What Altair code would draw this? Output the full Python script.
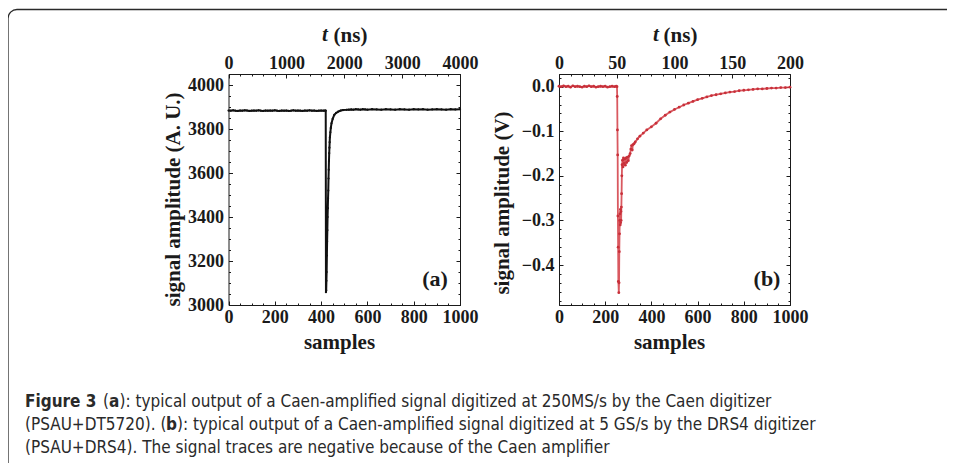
import altair as alt
import pandas as pd

# ---------------- data ----------------
# Panel (a): Caen digitizer, 250 MS/s (1 sample = 4 ns)
a_samples = [0, 10, 20, 30, 40, 50, 60, 70, 80, 90, 100, 110, 120, 130, 140, 150, 160, 170, 180, 190,
             200, 210, 220, 230, 240, 250, 260, 270, 280, 290, 300, 310, 320, 330, 340, 350, 360, 370,
             380, 390, 400, 410, 417, 420,
             421, 422, 423, 424, 425, 426, 427, 428, 429, 430, 431, 432, 433, 434, 435, 436, 437, 438,
             440, 442, 445, 450, 457, 465, 474, 485, 495,
             510, 520, 530, 540, 550, 560, 570, 580, 590, 600, 620, 640, 660, 680, 700, 720, 740, 760,
             780, 800, 820, 840, 860, 880, 900, 920, 940, 960, 980, 1000]
a_values = [3884, 3883, 3885, 3883, 3882, 3884, 3883, 3885, 3884, 3882, 3883, 3884, 3883, 3885, 3883, 3882,
            3884, 3883, 3884, 3883, 3885, 3883, 3882, 3884, 3883, 3884, 3882, 3883, 3885, 3883, 3884, 3883,
            3882, 3884, 3883, 3885, 3883, 3884, 3882, 3883, 3884, 3883, 3884, 3883,
            3058, 3066, 3110, 3150, 3225, 3290, 3340, 3400, 3440, 3485, 3520, 3575, 3615, 3655, 3690, 3715,
            3740, 3762, 3785, 3805, 3826, 3846, 3864, 3873, 3879, 3884, 3886,
            3887, 3888, 3889, 3888, 3890, 3889, 3888, 3890, 3889, 3888, 3890, 3889, 3888, 3890, 3889, 3888,
            3890, 3889, 3888, 3890, 3889, 3890, 3888, 3889, 3890, 3889, 3888, 3890, 3889, 3890]

# Panel (b): DRS4 digitizer, 5 GS/s (1 sample = 0.2 ns)
b_samples = [0, 10, 20, 30, 40, 50, 60, 70, 80, 90, 100, 110, 120, 130, 140, 150, 160, 170, 180, 190,
             200, 210, 220, 230, 240, 248, 251,
             252, 253, 254, 255, 256, 257, 259, 260, 261, 262, 263, 264, 265, 266, 267, 268, 269, 270,
             271, 272, 273, 275, 277, 279, 281, 284, 287, 290, 293, 296, 300, 304, 308, 311, 314, 317,
             320, 325, 330, 340, 350, 365, 380, 400, 420, 440, 460, 480, 500, 520, 540, 560, 580, 600,
             620, 640, 660, 680, 700, 720, 740, 760, 780, 800, 820, 840, 860, 880, 900, 920, 940, 960,
             980, 1000]
b_values = [0.001, 0.000, 0.002, 0.000, 0.001, -0.001, 0.002, 0.000, 0.001, 0.000, -0.001, 0.001, 0.000,
            0.002, 0.000, 0.001, -0.001, 0.000, 0.001, 0.000, 0.001, -0.001, 0.000, 0.001, 0.000, 0.001,
            0.000,
            -0.022, -0.097, -0.153, -0.290, -0.360, -0.437, -0.462, -0.440, -0.370, -0.330, -0.300, -0.285,
            -0.310, -0.275, -0.305, -0.280, -0.300, -0.270,
            -0.240, -0.200, -0.175, -0.165, -0.180, -0.160, -0.172, -0.162, -0.176, -0.160, -0.170, -0.158,
            -0.166, -0.155, -0.150, -0.140, -0.132, -0.142,
            -0.130, -0.128, -0.124, -0.117, -0.111, -0.104, -0.097, -0.090, -0.082, -0.072, -0.064, -0.057,
            -0.051, -0.046, -0.041, -0.037, -0.033, -0.029,
            -0.026, -0.023, -0.020, -0.018, -0.016, -0.014, -0.012, -0.011, -0.009, -0.008, -0.007, -0.006,
            -0.005, -0.005, -0.004, -0.003, -0.003, -0.002, -0.002, -0.001]

# tick values
x_major = [0, 200, 400, 600, 800, 1000]
x_minor = list(range(0, 1001, 50))
a_t_major = [0, 1000, 2000, 3000, 4000]
a_t_minor = list(range(0, 4001, 200))
a_y_major = [3000, 3200, 3400, 3600, 3800, 4000]
a_y_minor = list(range(3000, 4051, 50))
b_t_major = [0, 50, 100, 150, 200]
b_t_minor = list(range(0, 201, 10))
b_y_major = [-0.4, -0.3, -0.2, -0.1, 0.0]
b_y_minor = [-0.48, -0.46, -0.44, -0.42, -0.4, -0.38, -0.36, -0.34, -0.32, -0.3, -0.28, -0.26, -0.24,
             -0.22, -0.2, -0.18, -0.16, -0.14, -0.12, -0.1, -0.08, -0.06, -0.04, -0.02, 0.0, 0.02]

caption_lines = [
    [("Figure 3", True, 25), ("(", False, 103), ("a", True, 109),
     ("): typical output of a Caen-amplified signal digitized at 250MS/s by the Caen digitizer", False, 119.5)],
    [("(PSAU+DT5720). (", False, 25), ("b", True, 166),
     ("): typical output of a Caen-amplified signal digitized at 5 GS/s by the DRS4 digitizer", False, 177)],
    [("(PSAU+DRS4). The signal traces are negative because of the Caen amplifier", False, 25)],
]

# ---------------- layout ----------------
W, H = 939, 455
SERIF = "Liberation Serif"
SANS = "DejaVu Sans Condensed, Liberation Sans Narrow, Liberation Sans, sans-serif"
INK = "#1a1a1a"
Y0, Y1 = 74 - 8, 305 - 8     # top / bottom of both frames (chart coords)
MAJ, MIN = 4.0, 2.0


def sc(dom, rng):
    return alt.Scale(domain=dom, range=rng, nice=False, zero=False)


def lab_axis(orient, offset, values, fmt, title, tx, ty, pad, angle=0):
    kw = dict(orient=orient, offset=offset, values=values, format=fmt, ticks=False,
              labelPadding=pad, domain=True, domainColor=INK, domainWidth=1,
              grid=False, labelFont=SERIF, labelFontWeight="bold", labelFontSize=18,
              labelColor=INK, labelFlush=False, labelOverlap=False, labelBound=False,
              titleFont=SERIF, titleFontWeight="bold", titleFontSize=21, titleColor=INK)
    if title is None:
        kw["title"] = None
    else:
        kw.update(title=title, titleX=tx, titleY=ty, titleBaseline="middle", titleAngle=angle,
                  titleAlign="center")
    return alt.Axis(**kw)


def frame_axis(orient, offset):
    return alt.Axis(orient=orient, offset=offset, labels=False, ticks=False, domain=True,
                    domainColor=INK, domainWidth=1, grid=False, title=None)


def tick_axis(orient, offset, values, size):
    return alt.Axis(orient=orient, offset=offset, values=values, labels=False, domain=False,
                    ticks=True, tickSize=size, tickColor=INK, tickWidth=1, grid=False, title=None)


def panel(samples, values, tfac, tdom, tmaj, tmin, ydom, ymaj, ymin, yfmt, ytitle,
          px0, px1, ytx, yty, stx, ttx, tlx, tag, tagx, line_color, line_w, line_op,
          pt_color, pt_size):
    x0, x1 = px0 - 8, px1 - 8
    df = pd.DataFrame({"s": samples, "v": values})
    base = alt.Chart(df).transform_calculate(t=f"datum.s * {tfac}")
    xs = sc([0, 1000], [x0, x1])
    ts = sc(tdom, [x0, x1])
    ys = sc(ydom, [Y1, Y0])
    ghost = dict(opacity=0, size=1)

    layers = [
        base.mark_line(color=line_color, strokeWidth=line_w, opacity=line_op).encode(
            x=alt.X("s:Q", scale=xs,
                    axis=lab_axis("bottom", Y1 - H, x_major, "d", "samples", stx, 37.5, 3)),
            y=alt.Y("v:Q", scale=ys,
                    axis=lab_axis("left", -x0, ymaj, yfmt, ytitle, ytx - px0, yty, 5, 270)),
            order="s:Q"),
        base.mark_point(**ghost).encode(
            x=alt.X("s:Q", scale=xs, axis=tick_axis("bottom", Y1 - MAJ - H, x_major, MAJ)),
            y=alt.Y("v:Q", scale=ys, axis=tick_axis("left", -(x0 + MAJ), ymaj, MAJ))),
        base.mark_point(**ghost).encode(
            x=alt.X("s:Q", scale=xs, axis=tick_axis("bottom", Y1 - MIN - H, x_minor, MIN)),
            y=alt.Y("v:Q", scale=ys, axis=tick_axis("left", -(x0 + MIN), ymin, MIN))),
        base.mark_point(**ghost).encode(
            x=alt.X("t:Q", scale=ts,
                    axis=lab_axis("top", -Y0, tmaj, "d", "(ns)", ttx, 27 - Y0, 2)),
            y=alt.Y("v:Q", scale=ys, axis=frame_axis("right", x1 - W))),
        base.mark_point(**ghost).encode(
            x=alt.X("t:Q", scale=ts, axis=tick_axis("top", -(Y0 + MAJ), tmaj, MAJ)),
            y=alt.Y("v:Q", scale=ys, axis=tick_axis("right", x1 - MAJ - W, ymaj, MAJ))),
        base.mark_point(**ghost).encode(
            x=alt.X("t:Q", scale=ts, axis=tick_axis("top", -(Y0 + MIN), tmin, MIN)),
            y=alt.Y("v:Q", scale=ys, axis=tick_axis("right", x1 - MIN - W, ymin, MIN))),
        base.mark_circle(color=pt_color, size=pt_size, opacity=1).encode(
            x=alt.X("s:Q", scale=xs, axis=None),
            y=alt.Y("v:Q", scale=ys, axis=None)),
    ]
    one = pd.DataFrame({"k": [0]})
    layers.append(alt.Chart(one).mark_text(text=tag, font=SERIF, fontWeight="bold", fontSize=22,
                                           color=INK, align="center", baseline="middle").encode(
        x=alt.value(tagx - 8), y=alt.value(279 - 8)))
    layers.append(alt.Chart(one).mark_text(text="t", font=SERIF, fontWeight="bold", fontStyle="italic",
                                           fontSize=21, color=INK, align="center",
                                           baseline="middle").encode(
        x=alt.value(tlx - 8), y=alt.value(35 - 8)))
    return layers


layers = []
layers += panel(a_samples, a_values, 4, [0, 4000], a_t_major, a_t_minor, [3000, 4050], a_y_major,
                a_y_minor, "d", "signal amplitude (A. U.)", 228.5, 460, 173, 191, 331, 342, 325,
                "(a)", 435, "#111111", 2.0, 1.0, "#111111", 5)
layers += panel(b_samples, b_values, 0.2, [0, 200], b_t_major, b_t_minor, [-0.4897, 0.0285], b_y_major,
                b_y_minor, ".1f", "signal amplitude (V)", 559, 790, 502.7, 194.5, 661, 672, 656,
                "(b)", 767, "#d23c44", 1.8, 0.85, "#c8303a", 8)

# border with rounded top-left corner
one = pd.DataFrame({"k": [0]})
layers.append(alt.Chart(one).mark_rect(filled=False, stroke="#2a2a2a", strokeWidth=1.3,
                                       cornerRadius=9).encode(
    x=alt.value(0), x2=alt.value(990), y=alt.value(1.5), y2=alt.value(520)))

# caption
line_y = [406.7 - 8, 430 - 8, 452.7 - 8]
for li, segs in enumerate(caption_lines):
    for text, bold, px in segs:
        layers.append(alt.Chart(one).mark_text(
            text=text, font=SANS, fontSize=17, fontWeight="bold" if bold else "normal",
            color="#2a2a2a", align="left", baseline="alphabetic").encode(
            x=alt.value(px - 8), y=alt.value(line_y[li])))

chart = alt.layer(*layers).resolve_scale(x="independent", y="independent").resolve_axis(
    x="independent", y="independent").properties(
    width=W, height=H, padding=0, autosize=alt.AutoSizeParams(type="none"),
    background="white").configure_view(strokeWidth=0)

chart.save("out.html", embed_options={"renderer": "svg", "actions": False})
